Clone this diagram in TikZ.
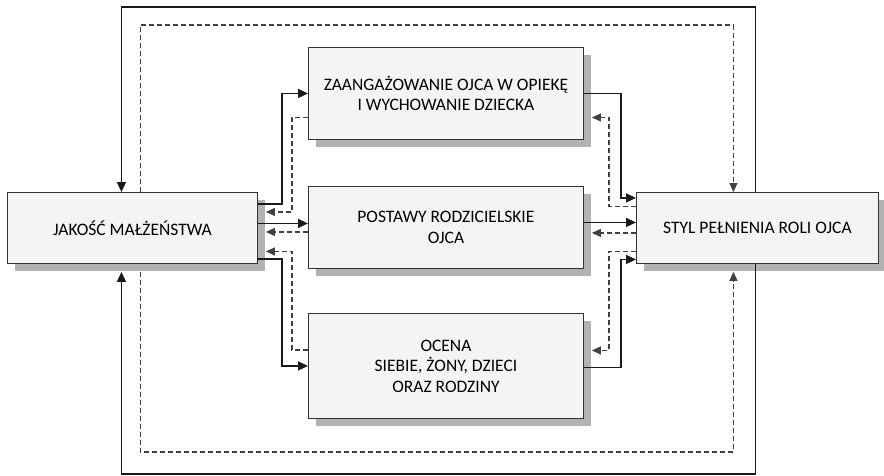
\documentclass[tikz,border=0pt]{standalone}
\usepackage{fontspec}
\setmainfont{Carlito}
\usetikzlibrary{arrows.meta,shadows}

\begin{document}
\begin{tikzpicture}[x=1pt,y=-1pt,
    blok/.style={draw=black!80, line width=0.9pt, fill=gray!9, anchor=north west,
      inner sep=0pt, align=center, font=\fontsize{17.5}{20.5}\selectfont,
      drop shadow={shadow xshift=8pt, shadow yshift=-8pt, fill=gray!60, opacity=1}},
    pelna/.style={line width=1.6pt, black!90, -{Triangle[length=10pt,width=9pt]}},
    przer/.style={line width=1.3pt, black!75, dash pattern=on 5pt off 3pt,
      -{Triangle[length=9pt,width=8pt]}}]
  \useasboundingbox (0,0) rectangle (884,475);

  \node[blok, minimum width=250pt, minimum height=71pt] (jakosc) at (7,192) {JAKOŚĆ MAŁŻEŃSTWA};
  \node[blok, minimum width=275pt, minimum height=92pt] (zaang) at (308,47)
    {ZAANGAŻOWANIE OJCA W OPIEKĘ\\I WYCHOWANIE DZIECKA};
  \node[blok, minimum width=275pt, minimum height=82pt] (postawy) at (308,186)
    {POSTAWY RODZICIELSKIE\\OJCA};
  \node[blok, minimum width=275pt, minimum height=105pt] (ocena) at (308,313)
    {OCENA\\SIEBIE, ŻONY, DZIECI\\ORAZ RODZINY};
  \node[blok, minimum width=242pt, minimum height=71pt] (styl) at (636,192) {STYL PEŁNIENIA ROLI OJCA};

  % lewa strona
  \draw[pelna] ([yshift=24pt]jakosc.east) -- ++(24,0) |- (zaang.west);
  \draw[przer] ([yshift=-24pt]zaang.west) -- ++(-16,0) |- ([xshift=8pt,yshift=16pt]jakosc.east);
  \draw[pelna] ([yshift=4.5pt]jakosc.east) -- ([yshift=4.5pt]jakosc.east -| postawy.west);
  \draw[przer] ([yshift=-4.5pt]postawy.west) -- ([xshift=8pt,yshift=-4.5pt]postawy.west -| jakosc.east);
  \draw[przer] ([yshift=16pt]ocena.west) -- ++(-16,0) |- ([xshift=8pt,yshift=-23.5pt]jakosc.east);
  \draw[pelna] ([yshift=-31pt]jakosc.east) -- ++(24,0) |- (ocena.west);

  % prawa strona
  \draw[pelna] (zaang.east) -- ++(37,0) |- ([yshift=30pt]styl.west);
  \draw[przer] ([yshift=21.5pt]styl.west) -- ++(-27,0) |- ([xshift=8pt,yshift=-24pt]zaang.east);
  \draw[pelna] ([yshift=5pt]postawy.east) -- ([yshift=5pt]postawy.east -| styl.west);
  \draw[przer] ([yshift=-5pt]styl.west) -- ([xshift=8pt,yshift=-5pt]styl.west -| postawy.east);
  \draw[przer] ([yshift=-23.5pt]styl.west) -- ++(-27,0) |- ([xshift=8pt,yshift=15.5pt]ocena.east);
  \draw[pelna] ([yshift=-1.5pt]ocena.east) -- ++(37,0) |- ([yshift=-31.5pt]styl.west);

  % petle zewnetrzne
  \draw[pelna] ([xshift=-2pt]styl.north) -- ++(0,-185) -| ([xshift=-11pt]jakosc.north);
  \draw[przer] ([xshift=8pt]jakosc.north) -- ++(0,-167) -| ([xshift=-24pt]styl.north);
  \draw[pelna] ([xshift=-2pt]styl.south) -- ++(0,210) -| ([xshift=-11pt,yshift=-8pt]jakosc.south);
  \draw[przer] ([xshift=8pt,yshift=-8pt]jakosc.south) -- ++(0,180) -| ([xshift=-24pt,yshift=-8pt]styl.south);
\end{tikzpicture}
\end{document}
